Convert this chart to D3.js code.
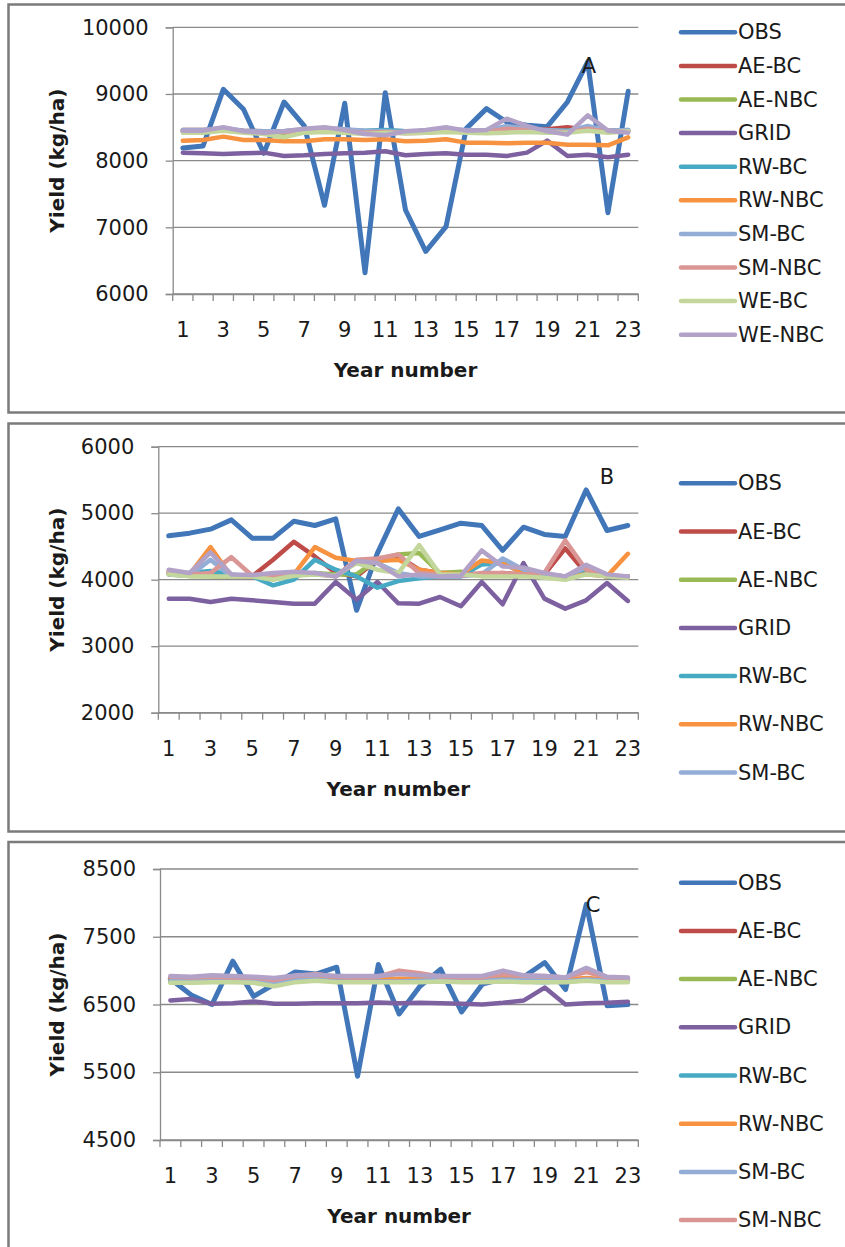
<!DOCTYPE html>
<html>
<head>
<meta charset="utf-8">
<script src="https://cdn.jsdelivr.net/npm/d3@7"></script>
<style>
  html, body { margin: 0; padding: 0; background: #fff; }
  svg { display: block; }
  text { font-family: "DejaVu Sans", sans-serif; fill: #1a1a1a; }
</style>
</head>
<body>
<svg id="chart" width="845" height="1247"></svg>
<script>
// ---- shared categories, series names and colours ----
const years = d3.range(1, 24);
const yearLabels = ["1","3","5","7","9","11","13","15","17","19","21","23"];
const seriesNames = ["OBS","AE-BC","AE-NBC","GRID","RW-BC","RW-NBC","SM-BC","SM-NBC","WE-BC","WE-NBC"];
const seriesColors = ["#4176b9","#be4b48","#98b954","#7d60a0","#46aac5","#f69240","#93add6","#d99694","#c3d69b","#b3a2c7"];

// ---- panel A (kg/ha) ----
const ticksA = [6000, 7000, 8000, 9000, 10000];
const obsA    = [8190,8220,9070,8770,8110,8880,8520,7330,8860,6320,9020,7260,6640,7010,8480,8780,8580,8530,8510,8880,9480,7220,9040];
const aeBcA   = [8460,8460,8470,8450,8440,8440,8450,8460,8450,8440,8450,8440,8440,8450,8450,8450,8460,8470,8470,8500,8460,8450,8450];
const aeNbcA  = [8430,8440,8460,8440,8430,8420,8440,8450,8440,8440,8450,8430,8430,8440,8440,8430,8440,8450,8440,8450,8470,8440,8450];
const gridA   = [8120,8110,8100,8110,8120,8070,8080,8100,8110,8120,8140,8080,8100,8110,8090,8090,8070,8120,8300,8070,8090,8050,8090];
const rwBcA   = [8450,8450,8470,8440,8440,8440,8460,8470,8460,8450,8460,8440,8440,8450,8450,8450,8460,8470,8450,8450,8470,8440,8460];
const rwNbcA  = [8300,8310,8360,8310,8310,8290,8290,8320,8320,8310,8320,8290,8300,8320,8270,8270,8260,8270,8270,8240,8240,8230,8350];
const smBcA   = [8460,8460,8490,8450,8440,8440,8470,8490,8470,8450,8440,8430,8450,8470,8460,8450,8520,8480,8460,8440,8520,8450,8460];
const smNbcA  = [8440,8440,8470,8430,8420,8430,8450,8460,8440,8420,8430,8410,8420,8440,8440,8430,8480,8460,8440,8420,8480,8430,8440];
const weBcA   = [8420,8420,8450,8420,8400,8350,8420,8430,8420,8400,8420,8410,8420,8430,8420,8410,8420,8430,8420,8420,8450,8420,8440];
const weNbcA  = [8450,8450,8500,8440,8420,8440,8480,8500,8460,8400,8380,8440,8460,8500,8450,8460,8630,8520,8440,8390,8680,8450,8420];

// ---- panel B (kg/ha) ----
const ticksB = [2000, 3000, 4000, 5000, 6000];
const obsB    = [4660,4700,4760,4900,4625,4625,4880,4815,4915,3540,4400,5065,4650,4750,4850,4815,4440,4790,4680,4650,5350,4740,4815];
const aeBcB   = [4100,4080,4060,4050,4050,4300,4570,4350,4100,4050,4300,4350,4150,4100,4100,4080,4100,4080,4080,4470,4100,4050,4050];
const aeNbcB  = [4080,4060,4050,4050,4060,4020,4060,4100,4080,4080,4300,4380,4400,4100,4120,4060,4070,4080,4060,4050,4100,4050,4050];
const gridB   = [3715,3715,3665,3715,3690,3665,3640,3640,3965,3700,3965,3645,3640,3740,3600,3965,3630,4250,3715,3565,3690,3950,3680];
const rwBcB   = [4100,4100,4130,4080,4050,3915,4000,4300,4150,4050,3880,3980,4020,4050,4050,4230,4250,4100,4080,4050,4100,4050,4050];
const rwNbcB  = [4100,4080,4490,4050,4050,4050,4080,4490,4330,4280,4280,4300,4150,4100,4080,4290,4250,4100,4080,4050,4080,4050,4390];
const smBcB   = [4080,4060,4300,4050,4060,4050,4080,4100,4050,4280,4250,4100,4050,4050,4050,4080,4320,4150,4080,4050,4180,4060,4050];
const smNbcB  = [4130,4080,4100,4340,4060,4050,4100,4080,4050,4300,4320,4380,4100,4080,4060,4100,4100,4080,4100,4590,4150,4060,4050];
const weBcB   = [4080,4050,4050,4050,4050,4000,4060,4080,4060,4250,4150,4100,4520,4080,4080,4050,4050,4050,4030,4000,4080,4050,4030];
const weNbcB  = [4150,4100,4410,4080,4070,4100,4120,4100,4050,4280,4250,4050,4080,4050,4060,4440,4200,4180,4100,4050,4225,4080,4050];

// ---- panel C (kg/ha) ----
const ticksC = [4500, 5500, 6500, 7500, 8500];
const obsC    = [6880,6640,6500,7140,6620,6800,6980,6950,7050,5440,7090,6360,6770,7020,6390,6800,6880,6910,7120,6720,7980,6480,6500];
const aeBcC   = [6860,6860,6870,6860,6860,6830,6860,6880,6870,6860,6860,6850,6860,6880,6860,6860,6880,6870,6870,6860,6880,6860,6850];
const aeNbcC  = [6830,6830,6840,6840,6830,6790,6840,6860,6850,6840,6840,6840,6840,6850,6840,6840,6850,6840,6840,6840,6860,6840,6840];
const gridC   = [6560,6580,6510,6520,6545,6510,6510,6520,6520,6520,6530,6520,6525,6520,6510,6500,6525,6560,6750,6500,6520,6525,6540];
const rwBcC   = [6850,6850,6860,6860,6850,6820,6860,6870,6860,6850,6850,6850,6850,6860,6850,6850,6860,6840,6830,6850,6860,6850,6860];
const rwNbcC  = [6870,6870,6880,6870,6870,6850,6880,6900,6880,6870,6870,6880,6880,6880,6870,6870,6890,6880,6880,6870,6890,6870,6870];
const smBcC   = [6850,6840,6860,6850,6850,6820,6860,6870,6840,6840,6840,6840,6850,6860,6850,6850,6870,6860,6850,6840,6870,6850,6850];
const smNbcC  = [6910,6900,6910,6900,6900,6860,6920,6950,6910,6900,6910,7000,6960,6910,6900,6900,6950,6920,6920,6900,6980,6900,6890];
const weBcC   = [6820,6820,6830,6830,6820,6770,6830,6850,6830,6830,6830,6830,6830,6840,6830,6830,6840,6830,6830,6830,6850,6830,6830];
const weNbcC  = [6920,6910,6930,6920,6910,6890,6930,6940,6920,6920,6920,6950,6930,6920,6920,6920,7000,6930,6920,6900,7040,6910,6900];

const panels = [
  { tag: "A", ticks: ticksA,
    series: [obsA, aeBcA, aeNbcA, gridA, rwBcA, rwNbcA, smBcA, smNbcA, weBcA, weNbcA],
    frame: { x: 8.5, y: 4.5, h: 408 },
    plot: { left: 172.7, right: 638.3, top: 27.3, bottom: 294 },
    tagPos: [589, 66], legend: { y0: 32.3, dy: 33.6, n: 10 } },
  { tag: "B", ticks: ticksB,
    series: [obsB, aeBcB, aeNbcB, gridB, rwBcB, rwNbcB, smBcB, smNbcB, weBcB, weNbcB],
    frame: { x: 8.5, y: 423.5, h: 408 },
    plot: { left: 158.3, right: 638.3, top: 446.7, bottom: 712.7 },
    tagPos: [607, 477], legend: { y0: 483.3, dy: 48.2, n: 7 } },
  { tag: "C", ticks: ticksC,
    series: [obsC, aeBcC, aeNbcC, gridC, rwBcC, rwNbcC, smBcC, smNbcC, weBcC, weNbcC],
    frame: { x: 8.5, y: 842, h: 420 },
    plot: { left: 160, right: 638.3, top: 869, bottom: 1140 },
    tagPos: [593, 905], legend: { y0: 882.7, dy: 48.2, n: 8 } }
];

const svg = d3.select("#chart");
const gridColor = "#8a8a8a";

panels.forEach(p => {
  const g = svg.append("g");

  // panel frame
  g.append("rect")
    .attr("x", p.frame.x).attr("y", p.frame.y)
    .attr("width", 860).attr("height", p.frame.h)
    .attr("fill", "none").attr("stroke", "#7b7b7b").attr("stroke-width", 2.5);

  const x = d3.scaleBand().domain(years).range([p.plot.left, p.plot.right]);
  const y = d3.scaleLinear().domain(d3.extent(p.ticks)).range([p.plot.bottom, p.plot.top]);

  // horizontal gridlines
  g.append("g").selectAll("line").data(p.ticks).join("line")
    .attr("x1", p.plot.left).attr("x2", p.plot.right)
    .attr("y1", d => y(d)).attr("y2", d => y(d))
    .attr("stroke", gridColor).attr("stroke-width", 1.3);

  // y axis
  const yAxis = g.append("g")
    .attr("transform", `translate(${p.plot.left},0)`)
    .call(d3.axisLeft(y).tickValues(p.ticks).tickSize(7).tickPadding(17).tickFormat(d3.format("d")));
  yAxis.select(".domain").attr("stroke", gridColor).attr("stroke-width", 1.3);
  yAxis.selectAll(".tick line").attr("stroke", gridColor).attr("stroke-width", 1.3);
  yAxis.selectAll(".tick text").style("font-size", "21px").attr("fill", "#1a1a1a");

  // x axis: labels at every other year, ticks on the category boundaries
  const xAxis = g.append("g")
    .attr("transform", `translate(0,${p.plot.bottom})`)
    .call(d3.axisBottom(x).tickValues(yearLabels.map(Number)).tickSize(0).tickPadding(28));
  xAxis.select(".domain").attr("stroke", gridColor).attr("stroke-width", 1.3);
  xAxis.selectAll(".tick text").style("font-size", "21px").attr("fill", "#1a1a1a");
  const bounds = years.map(d => x(d)).concat([x(years[years.length - 1]) + x.bandwidth()]);
  g.append("g").selectAll("line").data(bounds).join("line")
    .attr("x1", d => d).attr("x2", d => d)
    .attr("y1", p.plot.bottom).attr("y2", p.plot.bottom + 7)
    .attr("stroke", gridColor).attr("stroke-width", 1.3);

  // axis titles
  g.append("text")
    .attr("x", (p.plot.left + p.plot.right) / 2)
    .attr("y", p.plot.bottom + 83)
    .attr("text-anchor", "middle")
    .style("font-size", "20px").style("font-weight", "bold")
    .text("Year number");
  g.append("text")
    .attr("transform", `translate(57,${(p.plot.top + p.plot.bottom) / 2}) rotate(-90)`)
    .attr("text-anchor", "middle").attr("dominant-baseline", "central")
    .style("font-size", "20px").style("font-weight", "bold")
    .text("Yield (kg/ha)");

  // series lines
  const line = d3.line()
    .x((d, i) => x(years[i]) + x.bandwidth() / 2)
    .y(d => y(d));
  g.append("g").selectAll("path").data(p.series).join("path")
    .attr("d", line)
    .attr("fill", "none")
    .attr("stroke", (d, i) => seriesColors[i])
    .attr("stroke-width", (d, i) => i === 0 ? 5 : 4.5)
    .attr("stroke-linejoin", "round")
    .attr("stroke-linecap", "round");

  // panel tag
  g.append("text")
    .attr("x", p.tagPos[0]).attr("y", p.tagPos[1])
    .attr("text-anchor", "middle").attr("dominant-baseline", "central")
    .style("font-size", "21px")
    .text(p.tag);

  // legend
  const leg = g.append("g").selectAll("g")
    .data(seriesNames.slice(0, p.legend.n)).join("g")
    .attr("transform", (d, i) => `translate(0,${p.legend.y0 + i * p.legend.dy})`);
  leg.append("line")
    .attr("x1", 681).attr("x2", 735).attr("y1", 0).attr("y2", 0)
    .attr("stroke", (d, i) => seriesColors[i]).attr("stroke-width", 4.5)
    .attr("stroke-linecap", "round");
  leg.append("text")
    .attr("x", 738).attr("y", 0)
    .attr("dominant-baseline", "central")
    .style("font-size", "21px")
    .text(d => d);
});
</script>
</body>
</html>
